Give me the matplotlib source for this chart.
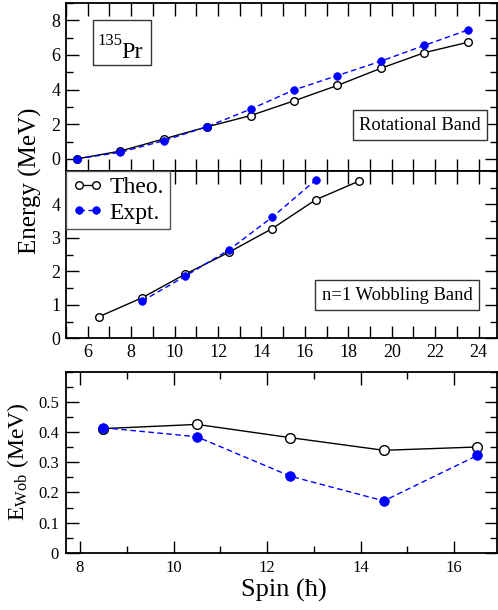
import numpy as np
import matplotlib
matplotlib.use('Agg')
import matplotlib.pyplot as plt
from matplotlib.ticker import MultipleLocator
from matplotlib.patches import Rectangle

plt.rcParams['font.family'] = ['Liberation Serif', 'DejaVu Serif']
plt.rcParams['mathtext.fontset'] = 'custom'
plt.rcParams['mathtext.rm'] = 'Liberation Serif'
plt.rcParams['mathtext.it'] = 'Liberation Serif:italic'

# rotational band (top panel)
rot_spin = [5.5, 7.5, 9.5, 11.5, 13.5, 15.5, 17.5, 19.5, 21.5, 23.5]
rot_theo = [0.0, 0.45, 1.15, 1.85, 2.50, 3.35, 4.24, 5.23, 6.13, 6.73]
rot_expt = [0.0, 0.38, 1.05, 1.86, 2.87, 3.98, 4.81, 5.64, 6.55, 7.44]

# n=1 wobbling band (middle panel)
wob_spin_theo = [6.5, 8.5, 10.5, 12.5, 14.5, 16.5, 18.5]
wob_theo = [0.64, 1.21, 1.92, 2.57, 3.28, 4.14, 4.70]
wob_spin_expt = [8.5, 10.5, 12.5, 14.5, 16.5]
wob_expt = [1.11, 1.86, 2.64, 3.62, 4.73]

# wobbling energy (bottom panel)
ew_spin = [8.5, 10.5, 12.5, 14.5, 16.5]
ew_theo = [0.412, 0.426, 0.382, 0.340, 0.351]
ew_expt = [0.415, 0.385, 0.254, 0.172, 0.323]

blue = '#0000ff'

fig = plt.figure(figsize=(4.98, 6.10), dpi=100)
L, R = 66 / 498, 497 / 498
ax1 = fig.add_axes([L, 1 - 171 / 610, R - L, 168 / 610])
ax2 = fig.add_axes([L, 1 - 338.3 / 610, R - L, 167.3 / 610])
ax3 = fig.add_axes([L, 1 - 552.7 / 610, R - L, 180.7 / 610])


def theo(ax, x, y, ms):
    return ax.plot(x, y, '-', color='black', lw=1.0, marker='o', ms=ms,
                   mfc='white', mec='black', mew=1.0, label='Theo.')[0]


def expt(ax, x, y, ms):
    return ax.plot(x, y, '--', color=blue, lw=1.0, dashes=(4, 2.5), marker='o',
                   ms=ms, mfc=blue, mec=blue, mew=0.5, label='Expt.')[0]


theo(ax1, rot_spin, rot_theo, 5.5)
expt(ax1, rot_spin, rot_expt, 5.5)
h1 = theo(ax2, wob_spin_theo, wob_theo, 5.5)
h2 = expt(ax2, wob_spin_expt, wob_expt, 5.5)
theo(ax3, ew_spin, ew_theo, 7)
expt(ax3, ew_spin, ew_expt, 7)

for ax in (ax1, ax2, ax3):
    for s in ax.spines.values():
        s.set_linewidth(1.3)
    ax.tick_params(which='both', direction='in', top=True, right=True,
                   labelright=False, width=1.0)
    ax.tick_params(which='major', length=9)
    ax.tick_params(which='minor', length=5)

for ax in (ax1, ax2):
    ax.set_xlim(5, 24.85)
    ax.xaxis.set_major_locator(MultipleLocator(2))
    ax.xaxis.set_minor_locator(MultipleLocator(1))
    ax.tick_params(axis='x', which='minor', length=9)
    ax.tick_params(labelsize=13, pad=4)

ax1.set_ylim(-0.7, 9.0)
ax1.yaxis.set_major_locator(MultipleLocator(2))
ax1.yaxis.set_minor_locator(MultipleLocator(1))
ax1.tick_params(axis='x', labelbottom=False)

ax2.set_ylim(0, 5)
ax2.yaxis.set_major_locator(MultipleLocator(1))
ax2.yaxis.set_minor_locator(MultipleLocator(0.5))
ax2.set_yticks([0, 1, 2, 3, 4])

ax3.set_xlim(7.7, 16.92)
ax3.set_ylim(0, 0.6)
ax3.xaxis.set_major_locator(MultipleLocator(2))
ax3.xaxis.set_minor_locator(MultipleLocator(1))
ax3.set_yticks([0, 0.1, 0.2, 0.3, 0.4, 0.5])
ax3.set_yticklabels(['0', '0.1', '0.2', '0.3', '0.4', '0.5'])
ax3.yaxis.set_minor_locator(MultipleLocator(0.05))
ax3.tick_params(labelsize=12, pad=5)

# nucleus label box
fig.patches.append(Rectangle((93 / 498, 1 - 65 / 610), 58 / 498, 45 / 610,
                             transform=fig.transFigure, fc='white',
                             ec='#333333', lw=1.0, zorder=5))
fig.text(97 / 498, 1 - 45 / 610, '135', fontsize=12, ha='left',
         va='baseline', zorder=6)
fig.text(121 / 498, 1 - 58 / 610, 'Pr', fontsize=17.5, ha='left',
         va='baseline', zorder=6)

box = dict(boxstyle='square,pad=0.35', fc='white', ec='#333333', lw=1.0)
fig.text(420 / 498, 1 - 125 / 610, 'Rotational Band', fontsize=13.4,
         ha='center', va='center', bbox=box)
fig.text(397 / 498, 1 - 295 / 610, 'n=1 Wobbling Band', fontsize=13.4,
         ha='center', va='center', bbox=box)

leg = ax2.legend(handles=[h1, h2], loc='upper left', bbox_to_anchor=(0, 1),
                 borderaxespad=0, numpoints=2, fontsize=17, handlelength=1.3,
                 handletextpad=0.3, borderpad=0.25, labelspacing=0.15,
                 fancybox=False, framealpha=1, edgecolor='#555555')
leg.get_frame().set_linewidth(1.0)

fig.text(30 / 498, 1 - 181 / 610, 'Energy (MeV)', fontsize=18,
         rotation=90, ha='center', va='center')
fig.text(18 / 498, 1 - 462 / 610, r'E$_{\mathrm{Wob}}$ (MeV)', fontsize=17,
         rotation=90, ha='center', va='center')
fig.text(284 / 498, 1 - 590 / 610, 'Spin (ħ)', fontsize=19,
         ha='center', va='center')

fig.savefig('out.png', dpi=100)
